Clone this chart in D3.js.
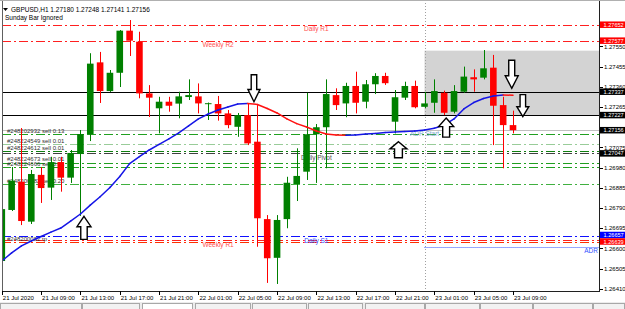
<!DOCTYPE html>
<meta charset="utf-8">
<style>
body{margin:0;background:#fff;overflow:hidden;}
svg text{font-family:"Liberation Sans",Arial,sans-serif;}
</style>
<svg id="chart" width="625" height="309"></svg>
<script src="https://d3js.org/d3.v7.min.js"></script>
<script>
// GBPUSD H1, 21 Jul 2020 05:00 .. 23 Jul 2020 09:00 (53 bars)
const opens  = [1.26541,1.26781,1.26914,1.26726,1.26946,1.26886,1.27006,1.26933,1.27044,1.27137,
                1.27475,1.27340,1.27426,1.27624,1.27572,1.27329,1.27259,1.27290,1.27281,1.27312,
                1.27315,1.27280,1.27279,1.27235,1.27172,1.27227,1.27102,1.26738,1.26556,1.26738,
                1.26903,1.26961,1.27137,1.27170,1.27321,1.27282,1.27364,1.27290,1.27372,1.27411,
                1.27196,1.27309,1.27364,1.27266,1.27285,1.27332,1.27243,1.27337,1.27405,1.27403,
                1.27450,1.27274,1.27180]
const highs  = [1.26790,1.26983,1.27166,1.26969,1.26983,1.27031,1.27031,1.27063,1.27157,1.27518,
                1.27524,1.27439,1.27627,1.27674,1.27619,1.27368,1.27313,1.27313,1.27337,1.27395,
                1.27376,1.27286,1.27317,1.27251,1.27237,1.27284,1.27274,1.26757,1.26757,1.26937,
                1.27071,1.27332,1.27185,1.27395,1.27353,1.27379,1.27431,1.27392,1.27424,1.27426,
                1.27345,1.27384,1.27389,1.27336,1.27395,1.27342,1.27368,1.27455,1.27442,1.27533,
                1.27510,1.27313,1.27248]
const lows   = [1.26536,1.26776,1.26710,1.26715,1.26814,1.26828,1.26867,1.26908,1.26753,1.27105,
                1.27284,1.27336,1.27359,1.27505,1.27306,1.27218,1.27141,1.27243,1.27212,1.27298,
                1.27235,1.27204,1.27201,1.27165,1.27125,1.27086,1.26608,1.26438,1.26433,1.26695,
                1.26823,1.26922,1.26908,1.26977,1.27251,1.27217,1.27235,1.27259,1.27326,1.27369,
                1.27141,1.27298,1.27259,1.27260,1.27238,1.27227,1.27235,1.27332,1.27337,1.27395,
                1.27086,1.26977,1.27141]
const closes = [1.26785,1.26919,1.26729,1.26950,1.26884,1.27006,1.26933,1.27049,1.27138,1.27469,
                1.27340,1.27426,1.27624,1.27577,1.27329,1.27309,1.27290,1.27271,1.27315,1.27321,
                1.27282,1.27283,1.27235,1.27180,1.27227,1.27094,1.26742,1.26554,1.26734,1.26909,
                1.26941,1.27137,1.27170,1.27326,1.27274,1.27364,1.27285,1.27372,1.27411,1.27377,
                1.27311,1.27364,1.27264,1.27282,1.27340,1.27238,1.27340,1.27408,1.27395,1.27447,
                1.27271,1.27180,1.27156]
const maValues = [1.26541,1.26579,1.26612,1.26635,1.26656,1.26677,1.26696,1.26729,1.26762,1.26804,
                  1.26843,1.26887,1.26938,1.26999,1.27032,1.27063,1.27089,1.27115,1.27143,1.27176,
                  1.27209,1.27232,1.27251,1.27265,1.27279,1.27282,1.27277,1.27258,1.27237,1.27209,
                  1.27187,1.27171,1.27152,1.27138,1.27133,1.27132,1.27134,1.27138,1.27141,1.27145,
                  1.27148,1.27150,1.27152,1.27157,1.27165,1.27180,1.27209,1.27256,1.27286,1.27305,
                  1.27317,1.27322,1.27320]

const timeTickBars = [0,4,8,12,16,20,24,28,32,36,40,44,48,52]
const timeTickLabels = ['21 Jul 2020','21 Jul 09:00','21 Jul 13:00','21 Jul 17:00','21 Jul 21:00',
  '22 Jul 01:00','22 Jul 05:00','22 Jul 09:00','22 Jul 13:00','22 Jul 17:00','22 Jul 21:00',
  '23 Jul 01:00','23 Jul 05:00','23 Jul 09:00']
const priceTicks = [1.27550,1.27455,1.27360,1.27265,1.27075,1.26980,1.26885,1.26790,1.26695,1.26600,1.26505,1.26410]

const pivotNames  = ['Daily R1','Weekly R2','Daily Pivot','Daily S1','Weekly R1']
const pivotPrices = [1.27652,1.27577,1.27047,1.26657,1.26639]
const pivotBars   = [32,22,32,32,22]

const orderLabels = ['#248202932 sell 0.13','#248224549 sell 0.01','#248224612 sell 0.01',
  '#248224673 sell 0.01','#248224666 sell 0.01','#248200082 sell 0.20','#248200082 tp']
const orderPrices = [1.27138,1.27090,1.27058,1.27003,1.26981,1.26902,1.26630]

const hLinePrices = [1.27337,1.27227]
const zonePrices = [1.27530,1.27227]
const adrStartBar = 43
const adrPrice = 1.26608

const arrowBars   = [8.36,25.65,40.35,45.2,51.87,53.0]
const arrowPrices = [1.26751,1.27290,1.27102,1.27213,1.27353,1.27220]
const arrowDirs   = ['up','down','up','up','down','down']
const arrowSizes  = [[14,23],[12,27],[17,16],[15,19],[13,28],[12,22]]

const svg = d3.select('#chart')
const W = 625, H = 309
const left = 2, right = 600, bottom = 291
const last = closes.length - 1

const x = d3.scaleLinear().domain([0, last]).range([1.8, 513])
const y = d3.scaleLinear().domain([1.2640, 1.2770]).range([bottom, 14.5])
const fmt = d3.format('.5f')
const crisp = v => Math.round(v) + 0.5

svg.append('defs').append('clipPath').attr('id','plot')
  .append('rect').attr('x', left).attr('y', 0).attr('width', right - left).attr('height', bottom)

const plot = svg.append('g').attr('clip-path','url(#plot)')

// zone box
plot.append('rect')
  .attr('x', x(adrStartBar)).attr('y', y(zonePrices[0]))
  .attr('width', right - x(adrStartBar)).attr('height', y(zonePrices[1]) - y(zonePrices[0]))
  .attr('fill', '#d3d3d3')

// vertical dotted line at ADR start
plot.append('line')
  .attr('x1', crisp(x(adrStartBar))).attr('x2', crisp(x(adrStartBar)))
  .attr('y1', 0).attr('y2', bottom)
  .attr('stroke', '#a0a0a0').attr('stroke-dasharray', '1,2')

const DASHDOT = '9,3,2,3'
const pivotColors = ['#ff2020','#ff2020','#404040','#1010ff','#ff2020']
const pivotText = ['#ff5050','#ff5050','#505050','#3050ff','#ff5050']

// order lines
const orderColors = ['#20a020','#99cc99','#108010','#20a020','#20a020','#40b040','#ff3000']
plot.selectAll('line.order').data(orderPrices).join('line').attr('class','order')
  .attr('x1', left).attr('x2', right)
  .attr('y1', d => crisp(y(d))).attr('y2', d => crisp(y(d)))
  .attr('stroke', (d, i) => orderColors[i]).attr('stroke-dasharray', DASHDOT)

// pivot lines
plot.selectAll('line.pivot').data(pivotPrices).join('line').attr('class','pivot')
  .attr('x1', left).attr('x2', right)
  .attr('y1', d => crisp(y(d))).attr('y2', d => crisp(y(d)))
  .attr('stroke', (d, i) => pivotColors[i]).attr('stroke-dasharray', DASHDOT)

// bid line
plot.append('line')
  .attr('x1', left).attr('x2', right)
  .attr('y1', crisp(y(closes[last]))).attr('y2', crisp(y(closes[last])))
  .attr('stroke', '#c0c0c0')

// solid black lines
plot.selectAll('line.hl').data(hLinePrices).join('line').attr('class','hl')
  .attr('x1', left).attr('x2', right)
  .attr('y1', d => crisp(y(d))).attr('y2', d => crisp(y(d)))
  .attr('stroke', '#000').attr('stroke-width', 1.2)

// ADR line
plot.append('line')
  .attr('x1', x(adrStartBar)).attr('x2', right)
  .attr('y1', crisp(y(adrPrice))).attr('y2', crisp(y(adrPrice)))
  .attr('stroke', '#3050ff').attr('stroke-dasharray', '1,1')

// texts on chart
plot.selectAll('text.order').data(orderLabels).join('text').attr('class','order')
  .attr('x', 7).attr('y', (d, i) => y(orderPrices[i]) - 1.5)
  .attr('font-size', 6).attr('fill', '#303030').text(d => d)

plot.selectAll('text.pivot').data(pivotNames).join('text').attr('class','pivot')
  .attr('x', (d, i) => x(pivotBars[i])).attr('y', (d, i) => y(pivotPrices[i]) + 6.5)
  .attr('text-anchor', 'middle').attr('font-size', 6.5)
  .attr('fill', (d, i) => pivotText[i]).text(d => d)

plot.append('text').attr('x', x(adrStartBar)).attr('y', y(orderPrices[0]) + 1.5)
  .attr('text-anchor','middle').attr('font-size', 6.5).attr('fill', '#80a8d0').text('ADR Start')
plot.append('text').attr('x', right - 2).attr('y', y(adrPrice) + 6)
  .attr('text-anchor','end').attr('font-size', 6.5).attr('fill', '#3050ff').text('ADR')

// candles
const bars = d3.range(closes.length)
const colorOf = i => closes[i] >= opens[i] ? '#008000' : '#ff0000'
const cw = 6.6

const candle = plot.selectAll('g.candle').data(bars).join('g').attr('class','candle')
candle.append('line')
  .attr('x1', i => crisp(x(i))).attr('x2', i => crisp(x(i)))
  .attr('y1', i => y(highs[i])).attr('y2', i => y(lows[i]))
  .attr('stroke', colorOf)
candle.append('rect')
  .attr('x', i => x(i) - cw / 2)
  .attr('width', cw)
  .attr('y', i => y(Math.max(opens[i], closes[i])))
  .attr('height', i => Math.max(1, Math.abs(y(opens[i]) - y(closes[i]))))
  .attr('fill', colorOf)

// moving average, blue while rising, red while falling
plot.selectAll('line.ma').data(bars.slice(1)).join('line').attr('class','ma')
  .attr('x1', i => x(i - 1)).attr('x2', i => x(i))
  .attr('y1', i => y(maValues[i - 1])).attr('y2', i => y(maValues[i]))
  .attr('stroke', i => maValues[i] >= maValues[i - 1] ? '#1515e6' : '#ff1010')
  .attr('stroke-width', 1.5).attr('stroke-linecap', 'round')

// arrows
function arrowPath(w, h, dir) {
  const hh = h * 0.45, sw = w * 0.46, s = dir === 'up' ? 1 : -1
  const p = [[0,0],[w/2,hh],[sw/2,hh],[sw/2,h],[-sw/2,h],[-sw/2,hh],[-w/2,hh]]
  return 'M' + p.map(q => q[0] + ',' + q[1] * s).join('L') + 'Z'
}
plot.selectAll('path.arrow').data(arrowBars).join('path').attr('class','arrow')
  .attr('transform', (d, i) => `translate(${x(d)},${y(arrowPrices[i])})`)
  .attr('d', (d, i) => arrowPath(arrowSizes[i][0], arrowSizes[i][1], arrowDirs[i]))
  .attr('fill', '#fff').attr('stroke', '#000').attr('stroke-width', 1.4)

// frame
svg.append('line').attr('x1', 0).attr('x2', W).attr('y1', 0.5).attr('y2', 0.5).attr('stroke', '#b0b0b0')
svg.append('line').attr('x1', left + 0.5).attr('x2', left + 0.5).attr('y1', 1).attr('y2', bottom).attr('stroke', '#606060')
svg.append('line').attr('x1', right - 0.5).attr('x2', right - 0.5).attr('y1', 1).attr('y2', bottom + 0.5).attr('stroke', '#202020')
svg.append('line').attr('x1', left).attr('x2', right).attr('y1', bottom + 0.5).attr('y2', bottom + 0.5).attr('stroke', '#202020')

// header
svg.append('path').attr('d', 'M3,8L8,8L5.5,11Z').attr('fill', '#000')
svg.append('text').attr('x', 11).attr('y', 11.5).attr('font-size', 6.5).attr('fill', '#000')
  .text(`GBPUSD,H1  ${fmt(opens[last])} ${fmt(highs[last])} ${fmt(lows[last])} ${fmt(closes[last])}`)
svg.append('text').attr('x', 5).attr('y', 20).attr('font-size', 6.5).attr('fill', '#000')
  .text('Sunday Bar Ignored')

// time axis
const tAxis = svg.append('g')
tAxis.selectAll('line').data(timeTickBars).join('line')
  .attr('x1', d => crisp(x(d))).attr('x2', d => crisp(x(d)))
  .attr('y1', bottom).attr('y2', bottom + 4).attr('stroke', '#000')
tAxis.selectAll('text').data(timeTickBars).join('text')
  .attr('x', d => x(d) + 1).attr('y', bottom + 8.5)
  .attr('font-size', 6).attr('fill', '#000')
  .text((d, i) => timeTickLabels[i])

// price axis
const pAxis = svg.append('g')
pAxis.selectAll('line').data(priceTicks).join('line')
  .attr('x1', right).attr('x2', right + 3)
  .attr('y1', d => crisp(y(d))).attr('y2', d => crisp(y(d))).attr('stroke', '#000')
pAxis.selectAll('text').data(priceTicks).join('text')
  .attr('x', right + 4).attr('y', d => y(d) + 2.2)
  .attr('font-size', 6).attr('fill', '#000').text(d => fmt(d))

// price label boxes; two colliding boxes are split around their midpoint
const boxPrices = pivotPrices.filter((d, i) => i !== 2).concat(hLinePrices, [closes[last], pivotPrices[2]])
const boxColors = ['#ff0000','#ff0000','#0000ff','#ff0000','#000','#000','#000','#000']
const BH = 6.5
const boxes = boxPrices.map((p, i) => ({p, c: boxColors[i], top: y(p) - BH / 2}))
  .sort((a, b) => a.top - b.top)
boxes.forEach((b, i) => {
  const prev = boxes[i - 1]
  if (prev && prev.top + BH > b.top) {
    const mid = (prev.top + b.top + BH) / 2
    prev.top = mid - BH
    b.top = mid
  }
})
const box = pAxis.selectAll('g.box').data(boxes).join('g').attr('class','box')
  .attr('transform', d => `translate(${right},${d.top})`)
box.append('rect').attr('width', 25).attr('height', BH).attr('fill', d => d.c)
box.append('text').attr('x', 3.5).attr('y', 5.3).attr('font-size', 5.6).attr('fill', '#fff').text(d => fmt(d.p))

// bottom tab strip
const tabs = [[0,82],[82,140],[142,193],[195,251],[252,307],[308,363],[365,425],[425,480],[480,533],[533,593],[593,625]]
svg.append('rect').attr('x', 0).attr('y', 302).attr('width', W).attr('height', 7).attr('fill', '#ececec')
svg.selectAll('rect.tab').data(tabs).join('rect').attr('class','tab')
  .attr('x', d => d[0] + 0.5).attr('y', 303.5).attr('width', d => d[1] - d[0] - 1).attr('height', 8)
  .attr('fill', (d, i) => i === 2 ? '#fff' : '#f2f2f2').attr('stroke', '#a8a8a8')
</script>
